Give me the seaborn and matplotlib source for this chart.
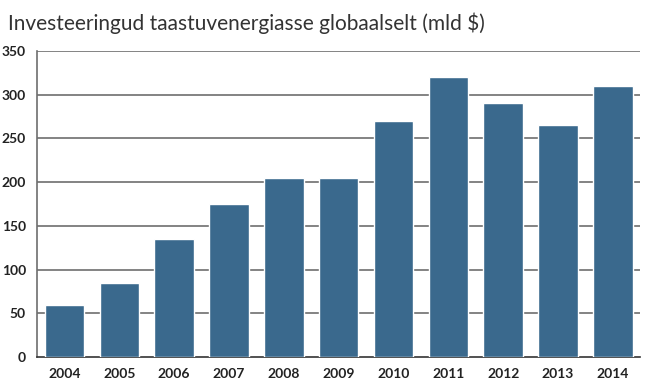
import matplotlib
matplotlib.use("Agg")
import matplotlib.pyplot as plt
import seaborn as sns
import pandas as pd
import numpy as np

years = ["2004", "2005", "2006", "2007", "2008", "2009", "2010", "2011", "2012", "2013", "2014"]
values = [60, 85, 135, 175, 205, 205, 270, 320, 290, 265, 310]
yticks = [0, 50, 100, 150, 200, 250, 300, 350]
title = "Investeeringud taastuvenergiasse globaalselt (mld $)"

sns.set_style("white")
plt.rcParams['font.family'] = ['Lato', 'DejaVu Sans']

df = pd.DataFrame({"year": years, "value": values})

fig = plt.figure(figsize=(6.5, 3.86), dpi=100)
ax = fig.add_axes([0.057, 0.075, 0.928, 0.793])
sns.barplot(data=df, x="year", y="value", color="#3a698d", saturation=1, width=0.72, ax=ax, zorder=3)

ax.set_ylim(0, 350)
ax.set_xlim(-0.5, len(years) - 0.5)
ax.set_yticks(yticks)
ax.set_yticklabels([str(t) for t in yticks], fontsize=10, fontweight="bold", color="#222222")
ax.set_xticklabels(years, fontsize=10, fontweight="bold", color="#222222")
ax.set_xlabel("")
ax.set_ylabel("")
for y in yticks[1:]:
    ax.axhline(y, color="#6e6e6e", lw=1.2, zorder=1)
ax.spines["right"].set_visible(False)
ax.spines["top"].set_visible(False)
ax.spines["left"].set_color("#6e6e6e")
ax.spines["left"].set_linewidth(1.2)
ax.spines["bottom"].set_color("#333333")
ax.spines["bottom"].set_linewidth(1.2)
ax.tick_params(axis="y", length=0, pad=8)
ax.tick_params(axis="x", length=0, pad=8)
ax.set_xticks(np.arange(len(years)) + 0.5, minor=True)
ax.tick_params(axis="x", which="minor", direction="in", length=6, color="#333333", width=1)

fig.text(0.012, 0.94, title, fontsize=15, color="#333333", ha="left", va="center")

fig.savefig("out.png", dpi=100)
